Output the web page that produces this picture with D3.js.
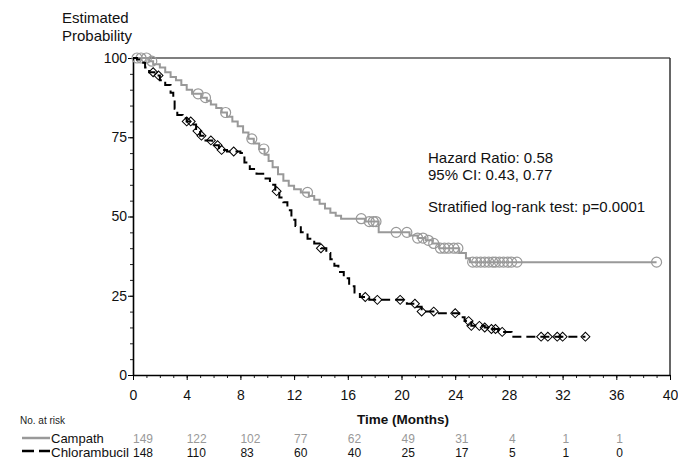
<!DOCTYPE html>
<html>
<head>
<meta charset="utf-8">
<script src="https://cdn.jsdelivr.net/npm/d3@7"></script>
<style>
  body { margin: 0; background: #fff; }
  text { font-family: "Liberation Sans", Arial, sans-serif; }
</style>
</head>
<body>
<svg id="chart" width="678" height="460"></svg>
<script>
// Kaplan-Meier estimates: [month, probability %]
const campathCurve = [
  [0,100],[0.9,100],[1.2,99],[1.5,98],[2.0,97],[2.4,95.5],[2.8,94],[3.2,93],[3.6,91.5],
  [4.0,90],[4.4,88.7],[5.1,87.5],[5.5,86.5],[5.8,85.3],[6.2,84.2],[6.6,82.8],[7.0,81.5],
  [7.4,80],[7.8,78.5],[8.2,76.5],[8.6,74.5],[9.0,73],[9.4,71.3],[9.8,69.5],[10.1,67.5],
  [10.4,65.5],[10.8,63.3],[11.2,61.3],[11.6,59.7],[12.0,58.6],[12.5,57.6],[13.1,56.5],
  [13.5,55.3],[13.9,54],[14.3,52.5],[14.7,51.2],[15.1,50.2],[15.5,49.3],[17.3,48.4],
  [18.3,45],[20.6,44],[21.2,43.2],[21.8,42.5],[22.3,41.5],[22.8,40],[24.3,38.5],
  [24.8,36.8],[25.1,35.6],[39.0,35.6]
];
const campathCensor = [
  0.3,0.6,1.0,1.4,4.85,5.4,6.9,8.85,9.75,13.0,17.0,17.6,17.9,18.1,19.6,20.4,
  21.2,21.6,22.0,22.4,22.9,23.2,23.5,23.9,24.2,25.3,25.6,25.9,26.2,26.5,26.8,
  27.0,27.3,27.6,27.9,28.2,28.6,39.0
];
const chlorCurve = [
  [0,100],[0.3,99.5],[0.6,98.5],[0.9,97],[1.2,95.5],[1.6,94.5],[2.0,93],[2.4,91.5],
  [2.8,89],[3.0,87],[3.1,84],[3.3,82],[3.7,81],[4.0,80],[4.4,79],[4.7,77],[5.0,75.5],
  [5.4,74],[5.9,72.5],[6.4,71],[7.0,70.5],[8.0,70],[8.3,67],[8.7,65],[9.2,63.5],
  [9.7,62],[10.2,60],[10.6,58],[10.9,56],[11.2,54.5],[11.5,52],[11.8,49],[12.1,47],
  [12.5,45],[13.0,43],[13.5,41.5],[14.0,40],[14.4,38.5],[14.7,36.5],[15.0,34.5],
  [15.3,32.5],[15.7,30.5],[16.1,28],[16.5,26],[16.9,24.6],[17.6,23.7],[20.4,22.5],
  [21.1,21.5],[21.5,20],[22.5,19.5],[24.3,18.2],[24.7,17],[25.2,15.5],[26.2,15],
  [26.7,14.5],[27.2,13.6],[28.2,12.1],[33.7,12.1]
];
const chlorCensor = [
  1.5,1.9,4.0,4.3,4.8,5.1,5.8,6.3,6.6,7.5,10.7,14.0,17.3,18.2,19.9,21.0,21.5,
  22.4,24.0,25.0,25.2,25.8,26.2,26.7,27.0,27.5,30.4,30.9,31.6,32.0,33.7
];

const riskTimes = [0,4,8,12,16,20,24,28,32,36];
const campathRisk = [149,122,102,77,62,49,31,4,1,1];
const chlorRisk = [148,110,83,60,40,25,17,5,1,0];

const xTicks = [0,4,8,12,16,20,24,28,32,36,40];
const yTicks = [0,25,50,75,100];
const annotations = ["Hazard Ratio: 0.58", "95% CI: 0.43, 0.77", "Stratified log-rank test: p=0.0001"];

const grayCol = "#999";
const svg = d3.select("#chart");
const plotL = 133, plotR = 670, plotT = 58, plotB = 375;

const x = d3.scaleLinear().domain([0,40]).range([plotL,plotR]);
const y = d3.scaleLinear().domain([0,100]).range([plotB,plotT]);

// frame (top / right)
svg.append("line").attr("x1",plotL).attr("x2",plotR).attr("y1",plotT).attr("y2",plotT)
  .attr("stroke","#555").attr("stroke-width",1.5);
svg.append("line").attr("x1",plotR).attr("x2",plotR).attr("y1",plotT).attr("y2",plotB)
  .attr("stroke","#333").attr("stroke-width",1.5);

// minor ticks
svg.append("g").attr("transform",`translate(0,${plotB})`)
  .call(d3.axisBottom(x).tickValues(d3.range(0,41,1)).tickSize(3).tickFormat(""))
  .call(g=>g.select(".domain").remove())
  .call(g=>g.selectAll("line").attr("stroke","#222"));
svg.append("g").attr("transform",`translate(${plotL},0)`)
  .call(d3.axisLeft(y).tickValues(d3.range(0,101,5)).tickSize(3).tickFormat(""))
  .call(g=>g.select(".domain").remove())
  .call(g=>g.selectAll("line").attr("stroke","#222"));

// major axes
const xAxis = svg.append("g").attr("transform",`translate(0,${plotB})`)
  .call(d3.axisBottom(x).tickValues(xTicks).tickSize(5).tickSizeOuter(0).tickPadding(10));
const yAxis = svg.append("g").attr("transform",`translate(${plotL},0)`)
  .call(d3.axisLeft(y).tickValues(yTicks).tickSize(5).tickSizeOuter(0).tickPadding(1));
[xAxis,yAxis].forEach(a=>{
  a.select(".domain").attr("stroke","#000").attr("stroke-width",1.6);
  a.selectAll("line").attr("stroke","#000");
  a.selectAll("text").attr("font-size",14).attr("fill","#111")
    .style("font-family","'Liberation Sans', Arial, sans-serif");
});

// labels
svg.append("text").attr("x",62).attr("y",23).attr("font-size",15).attr("fill","#111").text("Estimated");
svg.append("text").attr("x",62).attr("y",41).attr("font-size",15).attr("fill","#111").text("Probability");
svg.append("text").attr("x",403).attr("y",424).attr("text-anchor","middle")
  .attr("font-size",13.5).attr("fill","#111").attr("font-weight","bold")
  .text("Time (Months)");

// annotation
const annY = [163,180,212];
annotations.forEach((t,i)=>{
  svg.append("text").attr("x",428).attr("y",annY[i]).attr("font-size",15).attr("fill","#111").text(t);
});

const stepAt = (curve, t) => {
  let v = curve[0][1];
  for (const p of curve) { if (p[0] <= t) v = p[1]; }
  return v;
};

const line = d3.line().x(d=>x(d[0])).y(d=>y(d[1])).curve(d3.curveStepAfter);

const plot = svg.append("g");

// Campath
plot.append("path").datum(campathCurve)
  .attr("d",line).attr("fill","none").attr("stroke",grayCol).attr("stroke-width",2);
plot.selectAll(".cc").data(campathCensor).join("circle")
  .attr("cx",d=>x(d)).attr("cy",d=>y(stepAt(campathCurve,d)))
  .attr("r",5).attr("fill","none").attr("stroke",grayCol).attr("stroke-width",1.2);

// Chlorambucil
plot.append("path").datum(chlorCurve)
  .attr("d",line).attr("fill","none").attr("stroke","#000").attr("stroke-width",2)
  .attr("stroke-dasharray","9,5");
const dia = d3.symbol().type(d3.symbolSquare).size(40);
plot.selectAll(".dc").data(chlorCensor).join("path")
  .attr("transform",d=>`translate(${x(d)},${y(stepAt(chlorCurve,d))}) rotate(45)`)
  .attr("d",dia).attr("fill","none").attr("stroke","#000").attr("stroke-width",1);

// number at risk
svg.append("text").attr("x",20).attr("y",424).attr("font-size",10).attr("fill","#222").text("No. at risk");
svg.append("line").attr("x1",22).attr("x2",50).attr("y1",438).attr("y2",438)
  .attr("stroke",grayCol).attr("stroke-width",2.5);
svg.append("line").attr("x1",22).attr("x2",50).attr("y1",451).attr("y2",451)
  .attr("stroke","#000").attr("stroke-width",2.5).attr("stroke-dasharray","12,5");
svg.append("text").attr("x",51).attr("y",443).attr("font-size",13).attr("fill","#111").text("Campath");
svg.append("text").attr("x",51).attr("y",457).attr("font-size",13).attr("fill","#111")
  .attr("textLength",78).attr("lengthAdjust","spacingAndGlyphs").text("Chlorambucil");

svg.selectAll(".rc").data(riskTimes).join("text")
  .attr("x",d=>x(d)).attr("y",443).attr("font-size",12)
  .attr("fill","#999").text((d,i)=>campathRisk[i]);
svg.selectAll(".rk").data(riskTimes).join("text")
  .attr("x",d=>x(d)).attr("y",457).attr("font-size",12)
  .attr("fill","#111").text((d,i)=>chlorRisk[i]);
</script>
</body>
</html>
